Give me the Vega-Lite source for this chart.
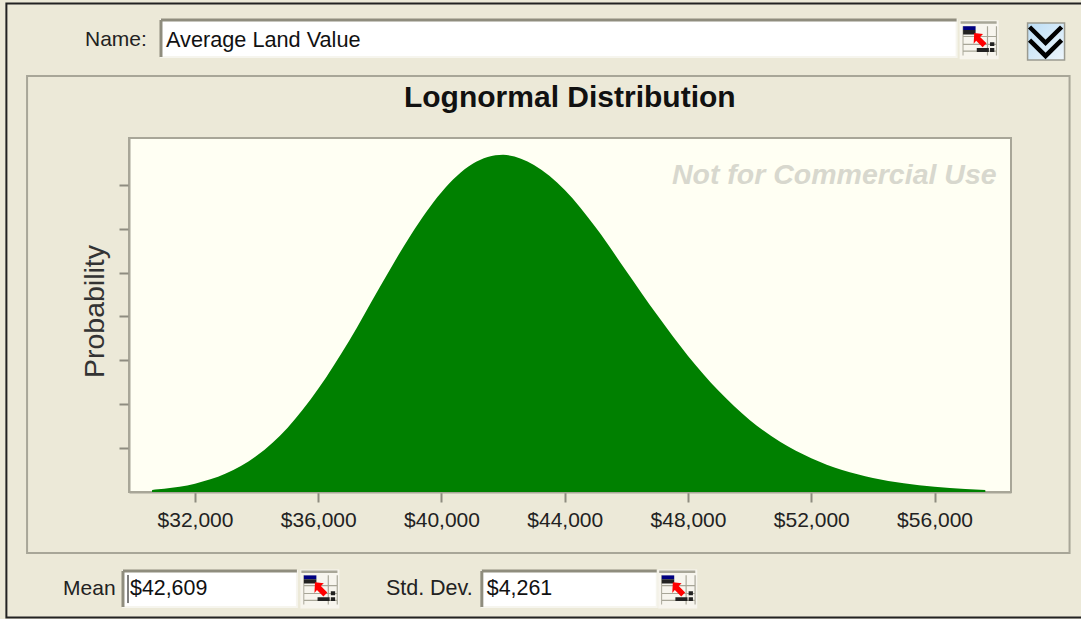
{
"$schema":"https://vega.github.io/schema/vega-lite/v6.json",
"width":882,"height":354,
"autosize":{"type":"none"},
"padding":{"left":129,"top":138,"right":70,"bottom":127},
"background":"#ECE9D8",
"config":{"view":{"fill":"#FFFFF3","stroke":"#A8A698","strokeWidth":2}},
"layer":[
{"data":{"values":[{"value":30605,"probability":0},{"value":30610,"probability":0.045},{"value":31000,"probability":0.075},{"value":32000,"probability":0.19},{"value":33000,"probability":0.42},{"value":34000,"probability":0.825},{"value":35000,"probability":1.46},{"value":36000,"probability":2.35},{"value":37000,"probability":3.44},{"value":38000,"probability":4.67},{"value":39000,"probability":5.85},{"value":40000,"probability":6.83},{"value":41000,"probability":7.47},{"value":42000,"probability":7.68},{"value":43000,"probability":7.45},{"value":44000,"probability":6.88},{"value":45000,"probability":6.03},{"value":46000,"probability":5.03},{"value":47000,"probability":4.03},{"value":48000,"probability":3.10},{"value":49000,"probability":2.30},{"value":50000,"probability":1.64},{"value":51000,"probability":1.14},{"value":52000,"probability":0.77},{"value":53000,"probability":0.50},{"value":54000,"probability":0.32},{"value":55000,"probability":0.20},{"value":56000,"probability":0.12},{"value":57000,"probability":0.07},{"value":57645,"probability":0.045},{"value":57650,"probability":0}]},
 "mark":{"type":"area","color":"#008000","interpolate":"monotone"},
 "encoding":{
  "x":{"field":"value","type":"quantitative","scale":{"domain":[29859,58481],"nice":false,"zero":false},
   "axis":{"title":null,"grid":false,"values":[32000,36000,40000,44000,48000,52000,56000],"format":"$,.0f","labelFont":"Liberation Sans","labelFontSize":21,"labelColor":"#222222","labelPadding":7,"tickColor":"#8E8C80","tickWidth":2,"tickSize":10,"domainColor":"#A8A698","domainWidth":2}},
  "y":{"field":"probability","type":"quantitative","scale":{"domain":[0,8.064],"nice":false,"zero":false},
   "axis":{"title":"Probability","titleFont":"Liberation Sans","titleFontSize":28.5,"titleFontWeight":"normal","titleColor":"#333333","titlePadding":9,"titleY":173,"grid":false,"values":[1,2,3,4,5,6,7],"labels":false,"tickColor":"#8E8C80","tickWidth":2,"tickSize":10,"domainColor":"#A8A698","domainWidth":2}}}},
{"data":{"values":[{"item":"window"}]},"mark":{"type":"rect","fillOpacity":0,"stroke":"#222222","strokeWidth":2,"clip":false},
 "encoding":{"x":{"datum":25880,"type":"quantitative"},"x2":{"datum":61030},"y":{"datum":11.128,"type":"quantitative"},"y2":{"datum":-2.859}}},
{"data":{"values":[{"item":"panel"}]},"mark":{"type":"rect","fillOpacity":0,"stroke":"#A8A698","strokeWidth":2},
 "encoding":{"x":{"datum":26551,"type":"quantitative"},"x2":{"datum":60381},"y":{"datum":9.476,"type":"quantitative"},"y2":{"datum":-1.39}}},
{"data":{"values":[{"label":"Lognormal Distribution"}]},"mark":{"type":"text","align":"center","baseline":"middle","font":"Liberation Sans","fontSize":30,"fontWeight":"bold","color":"#111111"},
 "encoding":{"x":{"datum":44163,"type":"quantitative"},"y":{"datum":8.975,"type":"quantitative"},"text":{"field":"label"}}},
{"data":{"values":[{"label":"Not for Commercial Use"}]},"mark":{"type":"text","align":"right","baseline":"middle","font":"Liberation Sans","fontSize":28.5,"fontStyle":"italic","fontWeight":"bold","color":"#D8D8CE"},
 "encoding":{"x":{"datum":58014,"type":"quantitative"},"y":{"datum":7.221,"type":"quantitative"},"text":{"field":"label"}}},

{"data":{"values":[{"box":"name"}]},"layer":[
 {"mark":{"type":"rect","fill":"#FFFFFF","stroke":"#F6F5EE","strokeWidth":2},"encoding":{"x":{"datum":30897,"type":"quantitative"},"x2":{"datum":56716},"y":{"datum":10.752,"type":"quantitative"},"y2":{"datum":9.909}}},
 {"mark":{"type":"rule","color":"#8F8D7E","strokeWidth":3},"encoding":{"x":{"datum":30897,"type":"quantitative"},"x2":{"datum":56716},"y":{"datum":10.752,"type":"quantitative"}}},
 {"mark":{"type":"rule","color":"#8F8D7E","strokeWidth":3},"encoding":{"x":{"datum":30897,"type":"quantitative"},"y":{"datum":10.752,"type":"quantitative"},"y2":{"datum":9.909}}}]},
{"data":{"values":[{"box":"mean"}]},"layer":[
 {"mark":{"type":"rect","fill":"#FFFFFF","stroke":"#F6F5EE","strokeWidth":2},"encoding":{"x":{"datum":29664,"type":"quantitative"},"x2":{"datum":35308},"y":{"datum":-1.8,"type":"quantitative"},"y2":{"datum":-2.62}}},
 {"mark":{"type":"rule","color":"#8F8D7E","strokeWidth":3},"encoding":{"x":{"datum":29664,"type":"quantitative"},"x2":{"datum":35308},"y":{"datum":-1.8,"type":"quantitative"}}},
 {"mark":{"type":"rule","color":"#8F8D7E","strokeWidth":3},"encoding":{"x":{"datum":29664,"type":"quantitative"},"y":{"datum":-1.8,"type":"quantitative"},"y2":{"datum":-2.62}}},
 {"mark":{"type":"rule","color":"#000000","strokeWidth":1},"encoding":{"x":{"datum":29827,"type":"quantitative"},"y":{"datum":-1.89,"type":"quantitative"},"y2":{"datum":-2.53}}}]},
{"data":{"values":[{"box":"sd"}]},"layer":[
 {"mark":{"type":"rect","fill":"#FFFFFF","stroke":"#F6F5EE","strokeWidth":2},"encoding":{"x":{"datum":41309,"type":"quantitative"},"x2":{"datum":46985},"y":{"datum":-1.8,"type":"quantitative"},"y2":{"datum":-2.62}}},
 {"mark":{"type":"rule","color":"#8F8D7E","strokeWidth":3},"encoding":{"x":{"datum":41309,"type":"quantitative"},"x2":{"datum":46985},"y":{"datum":-1.8,"type":"quantitative"}}},
 {"mark":{"type":"rule","color":"#8F8D7E","strokeWidth":3},"encoding":{"x":{"datum":41309,"type":"quantitative"},"y":{"datum":-1.8,"type":"quantitative"},"y2":{"datum":-2.62}}}]},

{"data":{"values":[{"label":"Name:"}]},"mark":{"type":"text","align":"left","baseline":"middle","font":"Liberation Sans","fontSize":21,"color":"#222222"},"encoding":{"x":{"datum":28432,"type":"quantitative"},"y":{"datum":10.3,"type":"quantitative"},"text":{"field":"label"}}},
{"data":{"values":[{"label":"Average Land Value"}]},"mark":{"type":"text","align":"left","baseline":"middle","font":"Liberation Sans","fontSize":21.7,"color":"#111111"},"encoding":{"x":{"datum":31059,"type":"quantitative"},"y":{"datum":10.3,"type":"quantitative"},"text":{"field":"label"}}},
{"data":{"values":[{"label":"Mean"}]},"mark":{"type":"text","align":"left","baseline":"middle","font":"Liberation Sans","fontSize":21,"color":"#222222"},"encoding":{"x":{"datum":27718,"type":"quantitative"},"y":{"datum":-2.21,"type":"quantitative"},"text":{"field":"label"}}},
{"data":{"values":[{"label":"$42,609"}]},"mark":{"type":"text","align":"left","baseline":"middle","font":"Liberation Sans","fontSize":21.4,"color":"#111111"},"encoding":{"x":{"datum":29891,"type":"quantitative"},"y":{"datum":-2.21,"type":"quantitative"},"text":{"field":"label"}}},
{"data":{"values":[{"label":"Std. Dev."}]},"mark":{"type":"text","align":"left","baseline":"middle","font":"Liberation Sans","fontSize":21.5,"color":"#222222"},"encoding":{"x":{"datum":38195,"type":"quantitative"},"y":{"datum":-2.21,"type":"quantitative"},"text":{"field":"label"}}},
{"data":{"values":[{"label":"$4,261"}]},"mark":{"type":"text","align":"left","baseline":"middle","font":"Liberation Sans","fontSize":21.4,"color":"#111111"},"encoding":{"x":{"datum":41471,"type":"quantitative"},"y":{"datum":-2.21,"type":"quantitative"},"text":{"field":"label"}}},

{"data":{"values":[{"button":"name"}]},
 "encoding":{"x":{"datum":57446,"type":"quantitative"},"y":{"datum":10.3,"type":"quantitative"}},
 "layer":[
 {"mark":{"type":"point","filled":true,"opacity":1,"size":1521,"color":"#F7F5EE","shape":"M-1 -1H1V1H-1Z"}},
 {"mark":{"type":"point","filled":true,"opacity":1,"size":1521,"color":"#A8A698","shape":"M-.95 -.95H.9V-.82H-.95ZM-.85 -.2H.9V-.14H-.85ZM-.85 .2H.9V.26H-.85ZM-.85 .55H.9V.61H-.85ZM.4 -.7H.46V.8H.4ZM-.85 -.7H-.8V.8H-.85ZM.86 -.7H.92V.8H.86Z"}},
 {"mark":{"type":"point","filled":true,"opacity":1,"size":1521,"color":"#000080","shape":"M-.82 -.7H-.18V-.5H-.82Z"}},
 {"mark":{"type":"point","filled":true,"opacity":1,"size":1521,"color":"#222222","shape":"M-.82 -.5H-.18V-.28H-.82ZM-.12 .42H.5V.62H-.12ZM.56 .12H.78V.32H.56ZM.56 .42H.78V.62H.56Z"}},
 {"mark":{"type":"point","filled":true,"opacity":1,"size":1521,"color":"#FF0000","shape":"M-.25 -.35L.2 -.3L.05 -.15L.38 .18L.18 .38L-.15 .05L-.28 .2Z"}}]},
{"data":{"values":[{"button":"mean"}]},
 "encoding":{"x":{"datum":36054,"type":"quantitative"},"y":{"datum":-2.21,"type":"quantitative"}},
 "layer":[
 {"mark":{"type":"point","filled":true,"opacity":1,"size":1521,"color":"#F7F5EE","shape":"M-1 -1H1V1H-1Z"}},
 {"mark":{"type":"point","filled":true,"opacity":1,"size":1521,"color":"#A8A698","shape":"M-.95 -.95H.9V-.82H-.95ZM-.85 -.2H.9V-.14H-.85ZM-.85 .2H.9V.26H-.85ZM-.85 .55H.9V.61H-.85ZM.4 -.7H.46V.8H.4ZM-.85 -.7H-.8V.8H-.85ZM.86 -.7H.92V.8H.86Z"}},
 {"mark":{"type":"point","filled":true,"opacity":1,"size":1521,"color":"#000080","shape":"M-.82 -.7H-.18V-.5H-.82Z"}},
 {"mark":{"type":"point","filled":true,"opacity":1,"size":1521,"color":"#222222","shape":"M-.82 -.5H-.18V-.28H-.82ZM-.12 .42H.5V.62H-.12ZM.56 .12H.78V.32H.56ZM.56 .42H.78V.62H.56Z"}},
 {"mark":{"type":"point","filled":true,"opacity":1,"size":1521,"color":"#FF0000","shape":"M-.25 -.35L.2 -.3L.05 -.15L.38 .18L.18 .38L-.15 .05L-.28 .2Z"}}]},
{"data":{"values":[{"button":"sd"}]},
 "encoding":{"x":{"datum":47666,"type":"quantitative"},"y":{"datum":-2.21,"type":"quantitative"}},
 "layer":[
 {"mark":{"type":"point","filled":true,"opacity":1,"size":1521,"color":"#F7F5EE","shape":"M-1 -1H1V1H-1Z"}},
 {"mark":{"type":"point","filled":true,"opacity":1,"size":1521,"color":"#A8A698","shape":"M-.95 -.95H.9V-.82H-.95ZM-.85 -.2H.9V-.14H-.85ZM-.85 .2H.9V.26H-.85ZM-.85 .55H.9V.61H-.85ZM.4 -.7H.46V.8H.4ZM-.85 -.7H-.8V.8H-.85ZM.86 -.7H.92V.8H.86Z"}},
 {"mark":{"type":"point","filled":true,"opacity":1,"size":1521,"color":"#000080","shape":"M-.82 -.7H-.18V-.5H-.82Z"}},
 {"mark":{"type":"point","filled":true,"opacity":1,"size":1521,"color":"#222222","shape":"M-.82 -.5H-.18V-.28H-.82ZM-.12 .42H.5V.62H-.12ZM.56 .12H.78V.32H.56ZM.56 .42H.78V.62H.56Z"}},
 {"mark":{"type":"point","filled":true,"opacity":1,"size":1521,"color":"#FF0000","shape":"M-.25 -.35L.2 -.3L.05 -.15L.38 .18L.18 .38L-.15 .05L-.28 .2Z"}}]},

{"data":{"values":[{"button":"collapse"}]},"layer":[
 {"mark":{"type":"rect","fill":{"gradient":"linear","x1":0,"y1":0,"x2":1,"y2":1,"stops":[{"offset":0,"color":"#BBDDF5"},{"offset":1,"color":"#EEF6FC"}]},"stroke":"#9A9A90","strokeWidth":1.5},"encoding":{"x":{"datum":59019,"type":"quantitative"},"x2":{"datum":60219},"y":{"datum":10.683,"type":"quantitative"},"y2":{"datum":9.841}}},
 {"mark":{"type":"point","filled":false,"opacity":1,"size":1296,"stroke":"#000000","strokeWidth":4.5,"shape":"M-.89 -.78L0 .1L.89 -.78M-.89 -.05L0 .83L.89 -.05"},"encoding":{"x":{"datum":59603,"type":"quantitative"},"y":{"datum":10.273,"type":"quantitative"}}}]}
]}
